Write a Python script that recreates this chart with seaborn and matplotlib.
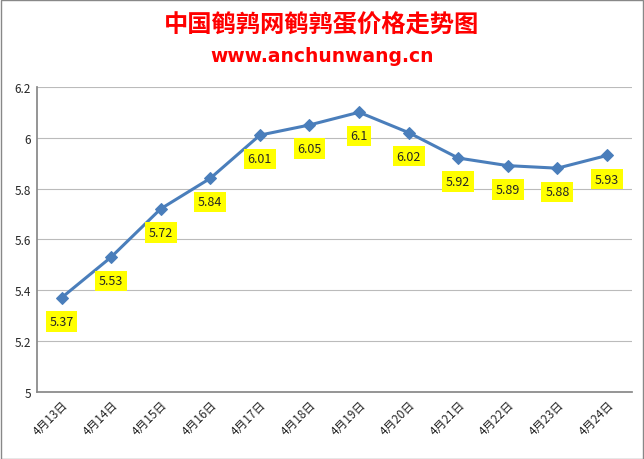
import matplotlib
matplotlib.use("Agg")
import matplotlib.pyplot as plt
import seaborn as sns
import pandas as pd

dates = ["4月13日", "4月14日", "4月15日", "4月16日", "4月17日", "4月18日",
         "4月19日", "4月20日", "4月21日", "4月22日", "4月23日", "4月24日"]
prices = [5.37, 5.53, 5.72, 5.84, 6.01, 6.05, 6.1, 6.02, 5.92, 5.89, 5.88, 5.93]
labels = ["5.37", "5.53", "5.72", "5.84", "6.01", "6.05", "6.1", "6.02",
          "5.92", "5.89", "5.88", "5.93"]

sns.set_theme(style="white")
plt.rcParams["font.family"] = ["Noto Sans CJK SC", "DejaVu Sans"]

df = pd.DataFrame({"x": range(len(dates)), "price": prices})

fig = plt.figure(figsize=(6.44, 4.6), dpi=100)
fig.patches.append(plt.Rectangle((0.001, 0.001), 0.997, 0.997, transform=fig.transFigure,
                                 fill=False, edgecolor="#888888", linewidth=1))
ax = fig.add_axes([0.057, 0.146, 0.924, 0.663])

sns.lineplot(data=df, x="x", y="price", ax=ax, color="#4A7EBB", linewidth=2.2,
             marker="D", markersize=6, markeredgecolor="#4A7EBB")

for i, (p, t) in enumerate(zip(prices, labels)):
    ax.annotate(t, (i, p), xytext=(0, -17), textcoords="offset points",
                ha="center", va="center", fontsize=9,
                bbox=dict(boxstyle="square,pad=0.3", facecolor="#FFFF00", edgecolor="none"))

ax.set_xlim(-0.5, len(dates) - 0.5)
ax.set_ylim(5, 6.2)
ax.set_yticks([5, 5.2, 5.4, 5.6, 5.8, 6, 6.2])
ax.set_yticklabels(["5", "5.2", "5.4", "5.6", "5.8", "6", "6.2"], fontsize=8.5)
ax.set_xticks(range(len(dates)))
ax.set_xticklabels(dates, rotation=45, ha="right", rotation_mode="anchor", fontsize=8.5)
ax.grid(axis="y", color="#BBBBBB", linewidth=0.8)
ax.set_xlabel("")
ax.set_ylabel("")
for s in ["top", "right"]:
    ax.spines[s].set_visible(False)
for s in ["left", "bottom"]:
    ax.spines[s].set_color("#888888")
ax.tick_params(axis="both", length=0, pad=4)

fig.text(0.5, 0.945, "中国鹌鹑网鹌鹑蛋价格走势图", ha="center", va="center",
         color="#FF0000", fontsize=17.5, fontweight="bold", family=["Noto Sans CJK SC"])
fig.text(0.5, 0.878, "www.anchunwang.cn", ha="center", va="center",
         color="#FF0000", fontsize=13.5, fontweight="bold", family=["DejaVu Sans"])

fig.savefig("out.png", dpi=100)
